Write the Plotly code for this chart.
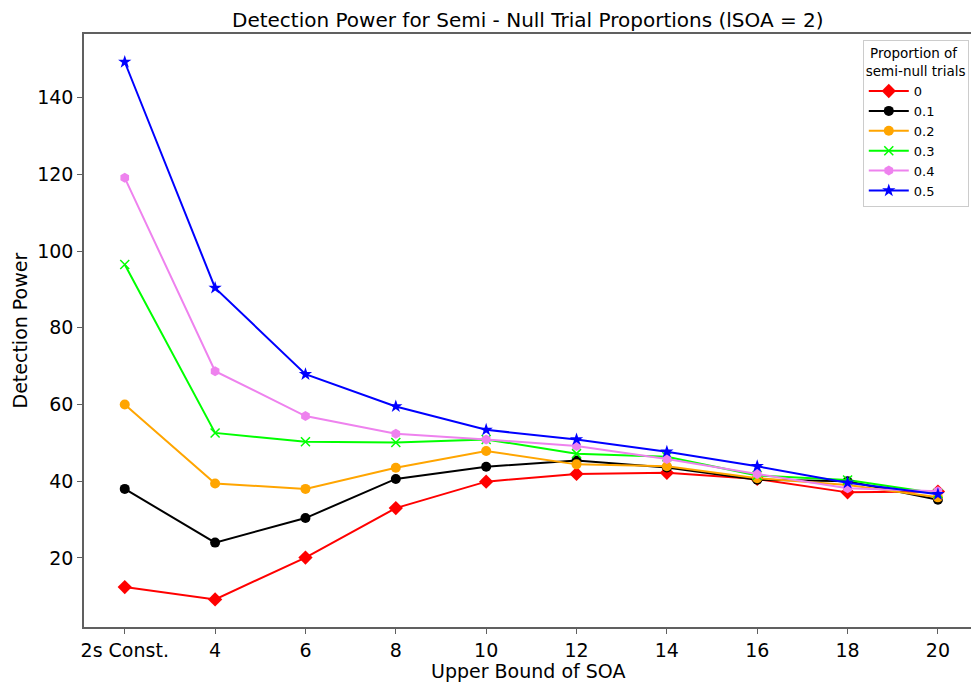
import plotly.graph_objects as go

categories = ["2s Const.", "4", "6", "8", "10", "12", "14", "16", "18", "20"]
series_names = ["0", "0.1", "0.2", "0.3", "0.4", "0.5"]
p0 = [12.4, 9.2, 20.1, 33.0, 39.9, 41.9, 42.2, 40.6, 37.1, 37.3]
p01 = [38.0, 24.0, 30.4, 40.6, 43.8, 45.4, 43.6, 40.4, 40.0, 35.2]
p02 = [60.0, 39.4, 38.0, 43.5, 47.9, 44.4, 43.9, 40.8, 39.0, 35.8]
p03 = [96.5, 52.6, 50.3, 50.1, 50.9, 47.2, 46.4, 41.5, 40.3, 36.8]
p04 = [119.1, 68.7, 57.0, 52.4, 50.9, 49.2, 45.8, 41.9, 38.2, 37.4]
p05 = [149.3, 90.4, 67.9, 59.5, 53.4, 50.9, 47.7, 43.9, 39.6, 36.6]

values = [p0, p01, p02, p03, p04, p05]
colors = ["#ff0000", "#000000", "#ffa500", "#00ff00", "#ee82ee", "#0000ff"]
symbols = ["diamond", "circle", "circle", "x-thin-open", "hexagon", "star"]
sizes = [11, 10, 10, 9, 10, 10]

fig = go.Figure()
for name, vals, col, sym, sz in zip(series_names, values, colors, symbols, sizes):
    mk = dict(symbol=sym, size=sz, color=col)
    if sym == "x-thin-open":
        mk["line"] = dict(color=col, width=1.5)
    fig.add_trace(go.Scatter(
        x=categories, y=vals, name=name, mode="lines+markers",
        line=dict(color=col, width=2), marker=mk,
    ))

font_family = "DejaVu Sans"
axis_line = "#606060"

fig.update_layout(
    width=971, height=684,
    margin=dict(l=84, r=0, t=34, b=57, autoexpand=False),
    paper_bgcolor="white", plot_bgcolor="white",
    font=dict(family=font_family, color="black"),
    showlegend=True,
    legend=dict(
        title=dict(text=" Proportion of<br>semi-null trials", font=dict(size=13.5), side="top"),
        font=dict(size=13),
        x=0.9975, xanchor="right", y=0.99, yanchor="top",
        bordercolor="#cccccc", borderwidth=1, bgcolor="rgba(255,255,255,0.8)",
        tracegroupgap=0, itemwidth=40,
    ),
    annotations=[
        dict(text="Detection Power for Semi - Null Trial Proportions (lSOA = 2)",
             xref="paper", yref="paper", x=0.5, y=1.0, yshift=0,
             xanchor="center", yanchor="bottom", showarrow=False,
             font=dict(size=20, family=font_family)),
        dict(text="Upper Bound of SOA", xref="paper", yref="paper",
             x=0.5, y=0, yshift=-31, xanchor="center", yanchor="top",
             showarrow=False, font=dict(size=19, family=font_family)),
        dict(text="Detection Power", xref="paper", yref="paper",
             x=0, xshift=-52, y=0.5, xanchor="right", yanchor="middle",
             textangle=-90, showarrow=False, font=dict(size=19, family=font_family)),
    ],
)

fig.update_xaxes(
    type="category", range=[-0.451, 9.366], automargin=False,
    showline=True, linecolor=axis_line, linewidth=1.5, mirror=True,
    ticks="outside", ticklen=5, tickcolor=axis_line, tickwidth=1,
    showgrid=False, zeroline=False,
    tickfont=dict(size=19, family=font_family, color="black"),
)
fig.update_yaxes(
    range=[2.0, 156.6], tickvals=[20, 40, 60, 80, 100, 120, 140], automargin=False,
    showline=True, linecolor=axis_line, linewidth=1.5, mirror=False,
    ticks="outside", ticklen=5, tickcolor=axis_line, tickwidth=1,
    showgrid=False, zeroline=False,
    tickfont=dict(size=19, family=font_family, color="black"),
)

fig.write_html(
    "out.html",
    config={"displayModeBar": False},
    post_script="document.body.style.margin='0';document.body.style.overflow='hidden';",
)
